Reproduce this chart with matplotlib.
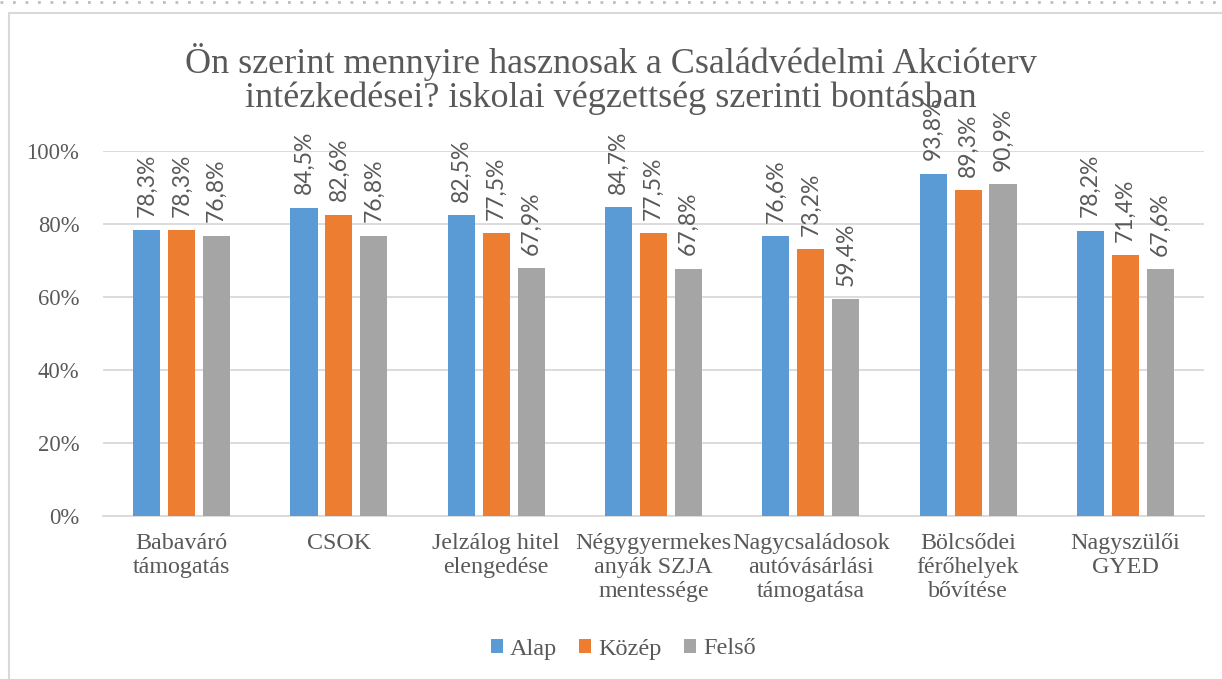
import matplotlib
matplotlib.use("Agg")
import matplotlib.pyplot as plt
from matplotlib.patches import Rectangle
from matplotlib.lines import Line2D
import numpy as np

plt.rcParams["font.family"] = ["Liberation Serif", "DejaVu Serif"]

TEXT = "#595959"
GRID = "#D9D9D9"
COLORS = ["#5B9BD5", "#ED7D31", "#A5A5A5"]

categories = [
    "Babaváró\ntámogatás",
    "CSOK",
    "Jelzálog hitel\nelengedése",
    "Négygyermekes\nanyák SZJA\nmentessége",
    "Nagycsaládosok\nautóvásárlási\ntámogatása",
    "Bölcsődei\nférőhelyek\nbővítése",
    "Nagyszülői\nGYED",
]
series_names = ["Alap", "Közép", "Felső"]
alap = [78.3, 84.5, 82.5, 84.7, 76.6, 93.8, 78.2]
kozep = [78.3, 82.6, 77.5, 77.5, 73.2, 89.3, 71.4]
felso = [76.8, 76.8, 67.9, 67.8, 59.4, 90.9, 67.6]
yticks = [0, 20, 40, 60, 80, 100]

fig = plt.figure(figsize=(12.22, 6.79), dpi=100)
ax = fig.add_axes([103 / 1222, 1 - 516 / 679, 1101 / 1222, 365 / 679])

# outer chart frame + dotted line at the very top
fig.patches.append(Rectangle((9 / 1222, -0.1), 1.2, 1 - 13 / 679 + 0.1,
                             transform=fig.transFigure, facecolor="none",
                             edgecolor=GRID, linewidth=1.5))
fig.lines.append(Line2D([0, 1], [1 - 1.5 / 679] * 2, transform=fig.transFigure,
                        color="#BFBFBF", linewidth=2, linestyle=(0, (1, 3.5))))

x = np.arange(len(categories))
w = 0.172
step = 0.222
for i, (vals, name) in enumerate(zip([alap, kozep, felso], series_names)):
    pos = x + (i - 1) * step
    ax.bar(pos, vals, w, color=COLORS[i], label=name, zorder=3)
    for p, v in zip(pos, vals):
        ax.annotate(f"{v:.1f}%".replace(".", ","), (p, v), xytext=(0, 9.5),
                    textcoords="offset points", rotation=90, ha="center",
                    va="bottom", fontsize=16.5, color=TEXT,
                    family=["Lato", "DejaVu Sans"],
                    annotation_clip=False)

ax.set_xlim(-0.5, len(categories) - 0.5)
ax.set_ylim(0, 100)
ax.set_yticks(yticks)
ax.set_yticklabels([f"{t}%" for t in yticks])
ax.set_xticks(x)
ax.set_xticklabels(categories, linespacing=1.2)
ax.tick_params(axis="both", length=0, labelcolor=TEXT)
ax.tick_params(axis="x", pad=12, labelsize=17.3)
ax.tick_params(axis="y", pad=17, labelsize=16.3)
ax.yaxis.grid(True, color=GRID, linewidth=1.3, zorder=0)
ax.set_axisbelow(True)
for s in ["top", "right", "left"]:
    ax.spines[s].set_visible(False)
ax.spines["bottom"].set_color(GRID)
ax.spines["bottom"].set_linewidth(1.3)

fig.text(0.5, 1 - 79 / 679, "Ön szerint mennyire hasznosak a Családvédelmi Akcióterv\n"
         "intézkedései? iskolai végzettség szerinti bontásban",
         ha="center", va="center", fontsize=26, color=TEXT, linespacing=1.0)

fig.legend(loc="center", bbox_to_anchor=(0.51, 1 - 649 / 679), ncol=3,
           frameon=False, fontsize=17.5, labelcolor=TEXT, handlelength=0.5,
           handleheight=0.5, handletextpad=0.3, columnspacing=0.9)

fig.savefig("out.png", dpi=100, facecolor="white")
